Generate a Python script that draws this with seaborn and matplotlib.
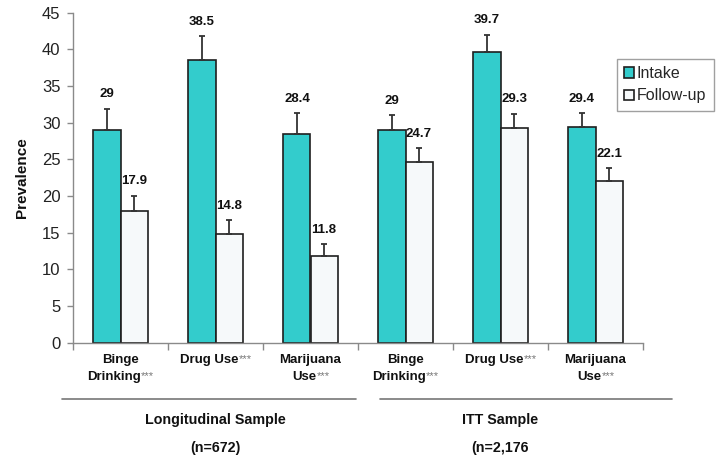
import matplotlib
matplotlib.use("Agg")
import matplotlib.pyplot as plt
import matplotlib.transforms as mtransforms
from matplotlib.lines import Line2D
import numpy as np
import pandas as pd
import seaborn as sns

# ---- data ----
samples = ["Longitudinal Sample", "ITT Sample"]
sample_ns = ["(n=672)", "(n=2,176"]
outcomes = ["Binge\nDrinking", "Drug Use", "Marijuana\nUse"]
periods = ["Intake", "Follow-up"]

intake = [29, 38.5, 28.4, 29, 39.7, 29.4]
followup = [17.9, 14.8, 11.8, 24.7, 29.3, 22.1]
intake_err = [2.9, 3.3, 2.9, 2.0, 2.3, 1.9]
followup_err = [2.1, 1.9, 1.6, 1.8, 1.9, 1.7]

y_ticks = [0, 5, 10, 15, 20, 25, 30, 35, 40, 45]

TEAL = "#33CCCC"
PALE = "#F6F9FA"
EDGE = "#1f1f1f"
GREY = "#8a8a8a"

keys = [f"{s}|{o}" for s in samples for o in outcomes]
df = pd.DataFrame({
    "key": keys * 2,
    "period": [periods[0]] * 6 + [periods[1]] * 6,
    "value": intake + followup,
})

sns.set_style("white")
plt.rcParams["font.family"] = ["Liberation Sans", "DejaVu Sans"]

fig = plt.figure(figsize=(7.17, 4.58), dpi=100)
ax = fig.add_axes([73 / 717, 1 - 342.7 / 458, 570 / 717, 330 / 458])

sns.barplot(data=df, x="key", y="value", hue="period", order=keys,
            hue_order=periods, palette=[TEAL, PALE], saturation=1,
            width=0.57, edgecolor=EDGE, linewidth=1.2, errorbar=None, ax=ax)

# error bars + value labels
for cont, errs in zip(ax.containers, [intake_err, followup_err]):
    xs = np.array([p.get_x() + p.get_width() / 2 for p in cont.patches])
    hs = np.array([p.get_height() for p in cont.patches])
    ax.errorbar(xs, hs, yerr=[np.zeros(len(errs)), errs], fmt="none",
                ecolor="#333333", elinewidth=1.3, capsize=2.2, capthick=1.3,
                zorder=1)
    for x, h, e in zip(xs, hs, errs):
        ax.annotate(f"{h:g}", xy=(x, h + e), xytext=(0, 10.5),
                    textcoords="offset points", ha="center", va="center",
                    fontsize=9.5, fontweight="bold", color="#111111")

ax.set_xlim(-0.5, len(keys) - 0.5)
ax.set_ylim(0, 45)
ax.set_yticks(y_ticks)
ax.set_xticks(np.arange(-0.5, len(keys) + 0.5, 1))
ax.set_xticklabels([])
ax.set_xlabel("")
ax.set_ylabel("Prevalence", fontsize=11, fontweight="bold", labelpad=9,
              color="#111111")
ax.tick_params(axis="y", labelsize=12, length=4, color=GREY, width=1,
               left=True, pad=5, labelcolor="#222222")
ax.tick_params(axis="x", length=5, color=GREY, width=1, bottom=True)
for side in ["top", "right"]:
    ax.spines[side].set_visible(False)
for side in ["left", "bottom"]:
    ax.spines[side].set_color(GREY)
    ax.spines[side].set_linewidth(1)

# category labels below axis
trans = mtransforms.blended_transform_factory(ax.transData, fig.transFigure)
for i, key in enumerate(keys):
    lines = key.split("|")[1].split("\n")
    ys = [1 - 360 / 458, 1 - 377 / 458]
    for j, line in enumerate(lines):
        last = j == len(lines) - 1
        t = ax.annotate(line, xy=(i, ys[j]), xycoords=trans,
                        xytext=(-4.5 if last else 0, 0),
                        textcoords="offset points", ha="center", va="center",
                        fontsize=9.5, fontweight="bold", color="#111111",
                        annotation_clip=False)
        if last:
            ax.annotate("***", xy=(1, 0.2), xycoords=t, ha="left",
                        va="bottom", fontsize=8, color="#777777")

# sample group lines and titles
spans = [(-0.62, 2.48), (2.73, 5.81)]
for k, (s, n) in enumerate(zip(samples, sample_ns)):
    x0, x1 = spans[k]
    ax.add_line(Line2D([x0, x1], [1 - 399 / 458] * 2, transform=trans,
                       color="#777777", linewidth=1.2, clip_on=False))
    cx = 3 * k + 1
    ax.text(cx, 1 - 420 / 458, s, transform=trans, ha="center", va="center",
            fontsize=10.3, fontweight="bold", color="#111111")
    ax.text(cx, 1 - 448 / 458, n, transform=trans, ha="center", va="center",
            fontsize=10.3, fontweight="bold", color="#111111")

leg = ax.legend(loc="upper left", bbox_to_anchor=(617 / 717, 1 - 59 / 458),
                bbox_transform=fig.transFigure, borderaxespad=0, fontsize=11.5,
                frameon=True, fancybox=False, edgecolor="#888888",
                handlelength=0.6, handleheight=0.6, handletextpad=0.2,
                borderpad=0.45, labelspacing=0.45)
leg.get_frame().set_linewidth(1)

fig.savefig("out.png", dpi=100)
